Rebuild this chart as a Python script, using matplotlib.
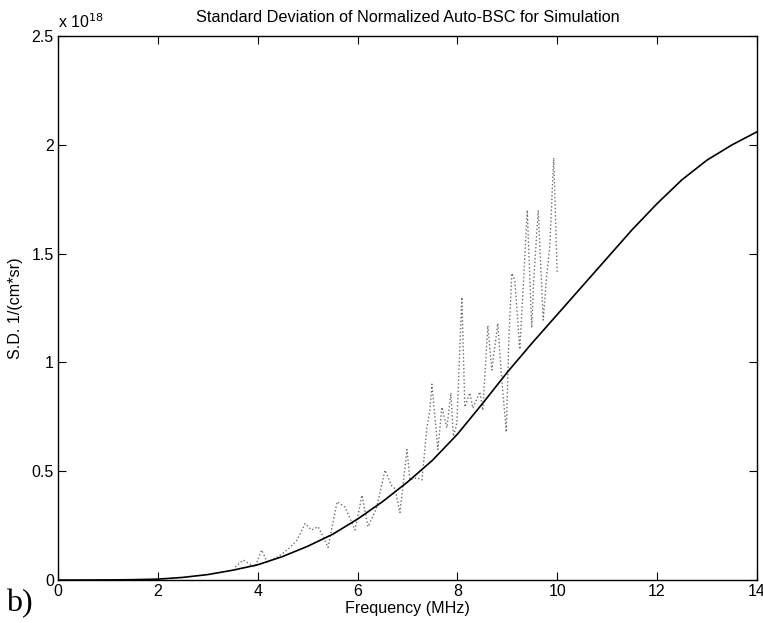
import numpy as np
import matplotlib.pyplot as plt

# values in units of 1e18 1/(cm*sr)
freq_model = [0, 0.5, 1, 1.5, 2, 2.5, 3, 3.5, 4, 4.5, 5, 5.5, 6, 6.5, 7,
              7.5, 8, 8.5, 9, 9.5, 10, 10.5, 11, 11.5, 12, 12.5, 13, 13.5, 14]
sd_model = [0, 0, 0.0005, 0.0015, 0.004, 0.012, 0.025, 0.045, 0.07, 0.108, 0.155,
            0.21, 0.28, 0.36, 0.45, 0.55, 0.67, 0.81, 0.955, 1.09, 1.22, 1.35,
            1.48, 1.61, 1.73, 1.84, 1.93, 2.0, 2.06]

freq_sim = [3.55, 3.71, 3.83, 3.95, 4.08, 4.19, 4.35, 4.51, 4.65, 4.79, 4.95, 5.08,
            5.21, 5.31, 5.41, 5.59, 5.75, 5.95, 6.09, 6.21, 6.38, 6.55, 6.69, 6.75,
            6.85, 6.99, 7.05, 7.19, 7.29, 7.39, 7.45, 7.49, 7.61, 7.69, 7.79, 7.87,
            7.92, 7.99, 8.09, 8.15, 8.25, 8.31, 8.45, 8.51, 8.61, 8.69, 8.81, 8.88,
            8.98, 9.03, 9.09, 9.15, 9.25, 9.32, 9.4, 9.49, 9.53, 9.62, 9.72, 9.79,
            9.85, 9.93, 10.0]
sd_sim = [0.06, 0.092, 0.075, 0.06, 0.138, 0.083, 0.10, 0.124, 0.15, 0.184, 0.26, 0.23,
          0.245, 0.2, 0.15, 0.36, 0.335, 0.23, 0.39, 0.245, 0.33, 0.505, 0.43, 0.42,
          0.31, 0.60, 0.46, 0.47, 0.46, 0.70, 0.78, 0.90, 0.60, 0.795, 0.70, 0.86,
          0.66, 0.72, 1.30, 0.795, 0.86, 0.79, 0.865, 0.78, 1.17, 0.965, 1.18, 0.95,
          0.68, 1.10, 1.41, 1.38, 1.06, 1.35, 1.70, 1.16, 1.38, 1.70, 1.195, 1.40,
          1.53, 1.94, 1.41]

plt.rcParams['font.family'] = ['Liberation Sans', 'DejaVu Sans']

fig = plt.figure(figsize=(7.63, 6.23), dpi=100)
ax = fig.add_axes([0.076, 0.069, 0.916, 0.873])

ax.plot(freq_sim, sd_sim, ':', color='#6e6e6e', linewidth=1.0)
ax.plot(freq_model, sd_model, '-', color='black', linewidth=1.2)

ax.set_xlim(0, 14)
ax.set_ylim(0, 2.5)
ax.set_xticks(np.arange(0, 15, 2))
ax.set_yticks([0, 0.5, 1, 1.5, 2, 2.5])
ax.set_yticklabels(['0', '0.5', '1', '1.5', '2', '2.5'])
ax.tick_params(direction='in', top=True, right=True, length=6, width=0.8,
               labelsize=11.5, pad=3)
for s in ax.spines.values():
    s.set_linewidth(1.0)

ax.set_title('Standard Deviation of Normalized Auto-BSC for Simulation', fontsize=11.7, pad=10)
ax.set_xlabel('Frequency (MHz)', fontsize=11.6, labelpad=1)
ax.set_ylabel('S.D. 1/(cm*sr)', fontsize=11.6, labelpad=6)
ax.text(0.0, 1.01, r'x 10$^{18}$', transform=ax.transAxes, fontsize=11.5,
        ha='left', va='bottom')

fig.text(0.008, 0.008, 'b)', fontsize=23, family='Liberation Serif', ha='left', va='bottom')

fig.savefig('out.png', dpi=100)
